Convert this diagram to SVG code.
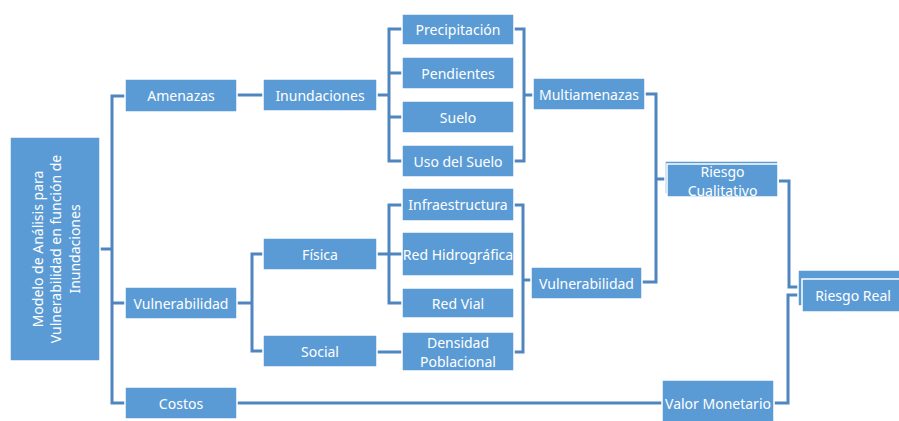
<svg xmlns="http://www.w3.org/2000/svg" width="899" height="421" viewBox="0 0 899 421">
<style>
.b{fill:#5b9bd5;stroke:#ffffff;stroke-width:1.5}
.t{fill:#ffffff;font-family:"Noto Sans","Open Sans",sans-serif;font-size:14px;text-anchor:middle;dominant-baseline:central}
.c path{fill:none;stroke:#4f86c0;stroke-width:3}
</style>
<rect width="899" height="421" fill="#ffffff"/>
<g class="c" id="connectors">
<path d="M100 249H112"/>
<path d="M125 96H112V403H125"/>
<path d="M112 303H125"/>
<path d="M237 95H263"/>
<path d="M377 95H389"/>
<path d="M402 29H389V161H402"/>
<path d="M389 73H402M389 117H402"/>
<path d="M514 29H524V161H514"/>
<path d="M524 95H533"/>
<path d="M237 303H252"/>
<path d="M263 254H252V351H263"/>
<path d="M377 254H402"/>
<path d="M402 205H389V303H402"/>
<path d="M377 352H402"/>
<path d="M514 205H523V352H514"/>
<path d="M523 280H531"/>
<path d="M645 94H656V282H642"/>
<path d="M656 179H667"/>
<path d="M778 181H789V287H798"/>
<path d="M774 403H788V295H798"/>
<path d="M237 403H662"/>
</g>
<g id="main"><rect class="b" x="10" y="137" width="90" height="224"/>
<text class="t" transform="translate(55 249) rotate(-90)"><tspan x="0" y="-18.5">Modelo de Análisis para</tspan><tspan x="0" y="0">Vulnerabilidad en función de</tspan><tspan x="0" y="18.5">Inundaciones</tspan></text></g>
<g id="amenazas"><rect class="b" x="125" y="79" width="112" height="33"/><text class="t" x="181" y="95.5">Amenazas</text></g>
<g id="vulnerabilidad"><rect class="b" x="125" y="287" width="112" height="32"/><text class="t" x="181" y="303">Vulnerabilidad</text></g>
<g id="costos"><rect class="b" x="125" y="387" width="112" height="32"/><text class="t" x="181" y="403">Costos</text></g>
<g id="inundaciones"><rect class="b" x="263" y="79" width="114" height="32"/><text class="t" x="320" y="95">Inundaciones</text></g>
<g id="fisica"><rect class="b" x="263" y="238" width="114" height="32"/><text class="t" x="320" y="254">Física</text></g>
<g id="social"><rect class="b" x="263" y="335" width="114" height="32"/><text class="t" x="320" y="351">Social</text></g>
<g id="precipitacion"><rect class="b" x="402" y="14" width="112" height="31"/><text class="t" x="458" y="29.5">Precipitación</text></g>
<g id="pendientes"><rect class="b" x="402" y="57" width="112" height="32"/><text class="t" x="458" y="73">Pendientes</text></g>
<g id="suelo"><rect class="b" x="402" y="101" width="112" height="32"/><text class="t" x="458" y="117">Suelo</text></g>
<g id="usosuelo"><rect class="b" x="402" y="145" width="112" height="32"/><text class="t" x="458" y="161">Uso del Suelo</text></g>
<g id="infraestructura"><rect class="b" x="402" y="188" width="112" height="33"/><text class="t" x="458" y="204.5">Infraestructura</text></g>
<g id="redhidro"><rect class="b" x="402" y="232" width="112" height="44"/><text class="t" x="458" y="254">Red Hidrográfica</text></g>
<g id="redvial"><rect class="b" x="402" y="288" width="112" height="30"/><text class="t" x="458" y="303">Red Vial</text></g>
<g id="densidad"><rect class="b" x="402" y="332" width="112" height="39"/><text class="t"><tspan x="458" y="342">Densidad</tspan><tspan x="458" y="361">Poblacional</tspan></text></g>
<g id="multiamenazas"><rect class="b" x="533" y="78" width="112" height="32"/><text class="t" x="589" y="94">Multiamenazas</text></g>
<g id="vulnerabilidad2"><rect class="b" x="531" y="267" width="111" height="32"/><text class="t" x="586.5" y="283">Vulnerabilidad</text></g>
<g id="riesgocualitativo"><rect class="b" x="665" y="161" width="113" height="33" stroke="none"/><rect class="b" x="667" y="164" width="111" height="33"/><text class="t"><tspan x="722.5" y="171">Riesgo</tspan><tspan x="722.5" y="190">Cualitativo</tspan></text></g>
<g id="riesgoreal"><rect class="b" x="798" y="270" width="102" height="36" stroke="none"/><rect class="b" x="802" y="279" width="98" height="33"/><text class="t" x="853" y="295.5">Riesgo Real</text></g>
<g id="valormonetario"><rect class="b" x="662" y="380" width="112" height="42"/><text class="t" x="718" y="403">Valor Monetario</text></g>
</svg>
